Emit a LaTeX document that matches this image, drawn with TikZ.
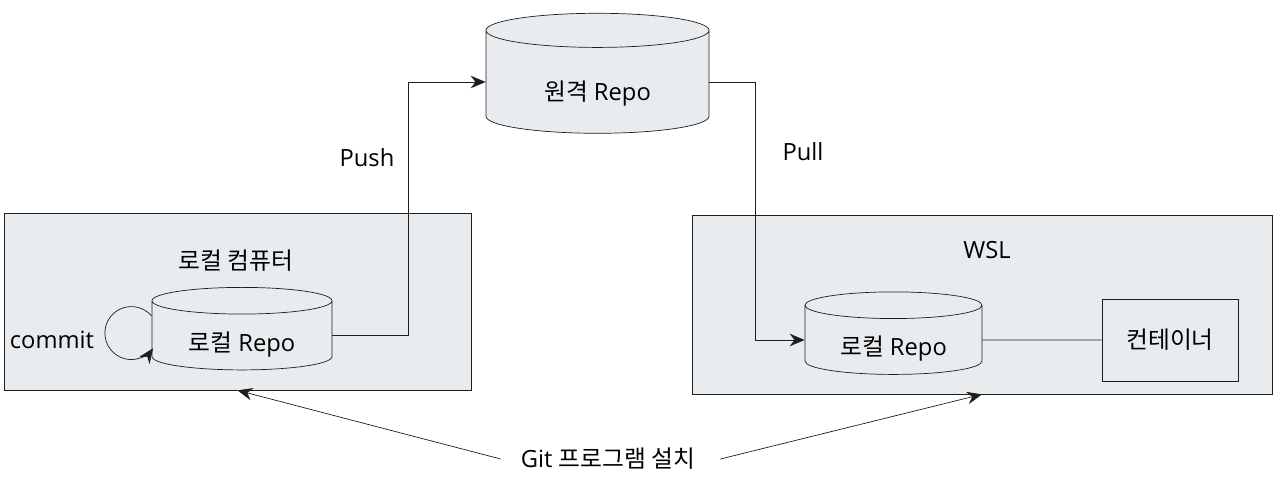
\documentclass[tikz,border=0pt]{standalone}
\usepackage{fontspec}
\setmainfont{Open Sans}
\newfontfamily\kr{Noto Sans CJK KR}
\usetikzlibrary{arrows.meta, positioning, shapes.geometric, calc}
\definecolor{boxgray}{HTML}{E9ECEE}
\definecolor{linegray}{HTML}{1E1E1E}
\tikzset{%
  area/.style={draw=linegray, fill=boxgray, inner sep=0mm},
  repo/.style={cylinder, shape border rotate=90, draw=linegray, fill=boxgray, inner sep=0mm,
    aspect=0.25, text height=21pt, text depth=3pt},
  plainbox/.style={draw=linegray, fill=boxgray, inner sep=0mm},
  label/.style={inner sep=0mm},
  flow/.style={linegray, -{Stealth[length=3mm, width=2.5mm]}},
  link/.style={linegray}
}

\begin{document}
\begin{tikzpicture}[font=\fontsize{13.5}{16}\selectfont]
  \useasboundingbox (0,0) rectangle (25.56,9.52);

  \node[area, minimum width=9.34cm, minimum height=3.54cm] (lbox) at (4.75,3.49) {};
  \node[area, minimum width=11.6cm, minimum height=3.58cm] (wbox) at (19.64,3.43) {};

  \node[label] (lname) at (4.72,4.3) {\kr 로컬 컴퓨터};
  \node[label] (wname) at (19.74,4.52) {WSL};

  \node[repo, minimum width=3.6cm, minimum height=1.58cm] (lrepo) at (4.84,2.81) {{\kr 로컬} Repo};
  \node[repo, aspect=0.32, text height=24pt, minimum width=4.46cm, minimum height=2.4cm] (remote) at (11.95,7.88) {{\kr 원격} Repo};
  \node[repo, minimum width=3.54cm, minimum height=1.6cm] (wrepo) at (17.87,2.72) {{\kr 로컬} Repo};
  \node[plainbox, minimum width=2.72cm, minimum height=1.64cm] (cont) at (23.4,2.72) {\kr 컨테이너};

  \node[label] (commit) at (1.04,2.72) {commit};
  \node[label] (push) at (7.34,6.36) {Push};
  \node[label] (pull) at (16.06,6.48) {Pull};
  \node[label] (git) at (12.16,0.34) {Git {\kr 프로그램 설치}};

  % repos
  \draw[flow] (lrepo.east) -- ++(1.52,0) |- (remote.west);
  \draw[flow] (remote.east) -- ++(0.92,0) |- (wrepo.west);
  \draw[link] (wrepo.east) -- (cont.west);
  \draw[flow] ([yshift=3.9mm]lrepo.west) arc[start angle=40, end angle=325, radius=0.53];

  % install
  \draw[flow] ([xshift=-4mm]git.west) -- (lbox.south);
  \draw[flow] ([xshift=5mm]git.east) -- (wbox.south);
\end{tikzpicture}
\end{document}
